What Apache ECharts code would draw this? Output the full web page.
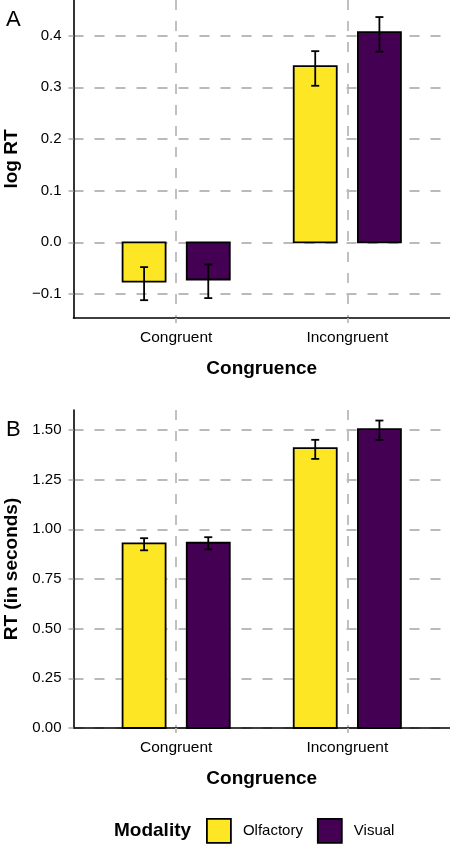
<!DOCTYPE html>
<html><head><meta charset="utf-8">
<script src="https://cdn.jsdelivr.net/npm/echarts@6/dist/echarts.min.js"></script>
<style>html,body{margin:0;padding:0;background:#fff}#c{width:450px;height:845px}</style>
</head><body><div id="c"></div>
<script>
const categories = ['Congruent', 'Incongruent'];
const groups = ['Olfactory', 'Visual'];
// Panel A: log RT (mean, lower and upper error bar)
const logRtOlfactory = [-0.076, 0.341];
const logRtOlfactoryLo = [-0.112, 0.303];
const logRtOlfactoryHi = [-0.048, 0.370];
const logRtVisual = [-0.072, 0.407];
const logRtVisualLo = [-0.108, 0.369];
const logRtVisualHi = [-0.043, 0.436];
const logRtTicks = [-0.1, 0, 0.1, 0.2, 0.3, 0.4];
// Panel B: RT in seconds
const rtOlfactory = [0.929, 1.408];
const rtOlfactoryLo = [0.894, 1.354];
const rtOlfactoryHi = [0.955, 1.450];
const rtVisual = [0.932, 1.504];
const rtVisualLo = [0.899, 1.449];
const rtVisualHi = [0.960, 1.547];
const rtTicks = [0, 0.25, 0.5, 0.75, 1.0, 1.25, 1.5];

const catPos = categories.map((c, i) => i + 1);
const FONT = '"Liberation Sans", Arial, Helvetica, sans-serif';
const GRID_COLOR = '#bababa';
const colors = { Olfactory: '#FDE725', Visual: '#440154' };
const BAR_HALF = 0.1257;
const DODGE = 0.1875;

function rows(m, lo, hi) {
  return catPos.map((x, i) => [x, m[i], lo[i], hi[i]]);
}
function makeRender(offset) {
  return function (params, api) {
    const x = api.value(0) + offset;
    const m = api.value(1), lo = api.value(2), hi = api.value(3);
    const a = api.coord([x - BAR_HALF, 0]);
    const b = api.coord([x + BAR_HALF, m]);
    const pl = api.coord([x, lo]);
    const ph = api.coord([x, hi]);
    const cap = 4;
    const ls = { stroke: '#000', lineWidth: 1.8 };
    return {
      type: 'group',
      children: [
        { type: 'rect', shape: { x: Math.min(a[0], b[0]), y: Math.min(a[1], b[1]), width: Math.abs(b[0] - a[0]), height: Math.abs(b[1] - a[1]) },
          style: { fill: api.visual('color'), stroke: '#000', lineWidth: 1.8 } },
        { type: 'line', shape: { x1: pl[0], y1: pl[1], x2: ph[0], y2: ph[1] }, style: ls },
        { type: 'line', shape: { x1: pl[0] - cap, y1: pl[1], x2: pl[0] + cap, y2: pl[1] }, style: ls },
        { type: 'line', shape: { x1: ph[0] - cap, y1: ph[1], x2: ph[0] + cap, y2: ph[1] }, style: ls }
      ]
    };
  };
}

function xAxisCfg(gridIndex) {
  return {
    type: 'value', gridIndex, min: 0.4, max: 2.6,
    name: 'Congruence', nameLocation: 'middle', nameGap: 41,
    nameTextStyle: { fontFamily: FONT, fontWeight: 'bold', fontSize: 19, color: '#000' },
    axisLine: { show: true, onZero: false, lineStyle: { color: '#000', width: 1.6 } },
    axisTick: { show: true, customValues: catPos, length: 5, lineStyle: { color: GRID_COLOR, width: 1.8 } },
    axisLabel: { show: true, customValues: catPos, margin: 12, fontFamily: FONT, fontSize: 15.5, color: '#000',
      formatter: v => categories[Math.round(v) - 1] || '' },
    splitLine: { show: true, lineStyle: { color: GRID_COLOR, width: 1.8, type: [10, 11] } }
  };
}
function yAxisCfg(gridIndex, name, min, max, ticks, fmt) {
  return {
    type: 'value', gridIndex, min, max,
    name, nameLocation: 'middle', nameGap: 44,
    nameTextStyle: { fontFamily: FONT, fontWeight: 'bold', fontSize: 19, color: '#000' },
    axisLine: { show: true, onZero: false, lineStyle: { color: '#000', width: 1.6 } },
    axisTick: { show: true, customValues: ticks, length: 5, lineStyle: { color: GRID_COLOR, width: 1.8 } },
    axisLabel: { show: true, customValues: ticks, margin: 12, fontFamily: FONT, fontSize: 15, color: '#000', formatter: fmt },
    splitLine: { show: true, lineStyle: { color: GRID_COLOR, width: 1.8, type: [10, 11] } }
  };
}
const fmtA = v => (v < -1e-9 ? '\u2212' : '') + Math.abs(v).toFixed(1);
const fmtB = v => v.toFixed(2);

const chart = echarts.init(document.getElementById('c'), null, { renderer: 'canvas' });
chart.setOption({
  animation: false,
  backgroundColor: '#fff',
  grid: [
    { left: 73.5, right: 0, top: 0, height: 318, containLabel: false, outerBoundsMode: 'none' },
    { left: 73.5, right: 0, top: 410, height: 318, containLabel: false, outerBoundsMode: 'none' }
  ],
  xAxis: [xAxisCfg(0), xAxisCfg(1)],
  yAxis: [
    yAxisCfg(0, 'log RT', -0.1465, 0.469, logRtTicks, fmtA),
    yAxisCfg(1, 'RT (in seconds)', 0, 1.6, rtTicks, fmtB)
  ],
  legend: {
    data: groups, left: 206, top: 818, padding: 0, icon: 'rect', itemWidth: 24, itemHeight: 24, itemGap: 14,
    itemStyle: { borderColor: '#000', borderWidth: 1.8 },
    textStyle: { fontFamily: FONT, fontSize: 15, color: '#000', padding: [0, 0, 0, 7] }
  },
  graphic: [
    { type: 'text', left: 6, top: 9, style: { text: 'A', font: '22px ' + FONT, fill: '#000' } },
    { type: 'text', left: 6, top: 419, style: { text: 'B', font: '22px ' + FONT, fill: '#000' } },
    { type: 'text', left: 114, top: 821, style: { text: 'Modality', font: 'bold 19px ' + FONT, fill: '#000' } }
  ],
  series: [
    { type: 'custom', name: 'Olfactory', xAxisIndex: 0, yAxisIndex: 0, itemStyle: { color: colors.Olfactory },
      data: rows(logRtOlfactory, logRtOlfactoryLo, logRtOlfactoryHi), renderItem: makeRender(-DODGE), encode: { x: 0, y: [1, 2, 3] } },
    { type: 'custom', name: 'Visual', xAxisIndex: 0, yAxisIndex: 0, itemStyle: { color: colors.Visual },
      data: rows(logRtVisual, logRtVisualLo, logRtVisualHi), renderItem: makeRender(DODGE), encode: { x: 0, y: [1, 2, 3] } },
    { type: 'custom', name: 'Olfactory', xAxisIndex: 1, yAxisIndex: 1, itemStyle: { color: colors.Olfactory },
      data: rows(rtOlfactory, rtOlfactoryLo, rtOlfactoryHi), renderItem: makeRender(-DODGE), encode: { x: 0, y: [1, 2, 3] } },
    { type: 'custom', name: 'Visual', xAxisIndex: 1, yAxisIndex: 1, itemStyle: { color: colors.Visual },
      data: rows(rtVisual, rtVisualLo, rtVisualHi), renderItem: makeRender(DODGE), encode: { x: 0, y: [1, 2, 3] } }
  ]
});
</script></body></html>
